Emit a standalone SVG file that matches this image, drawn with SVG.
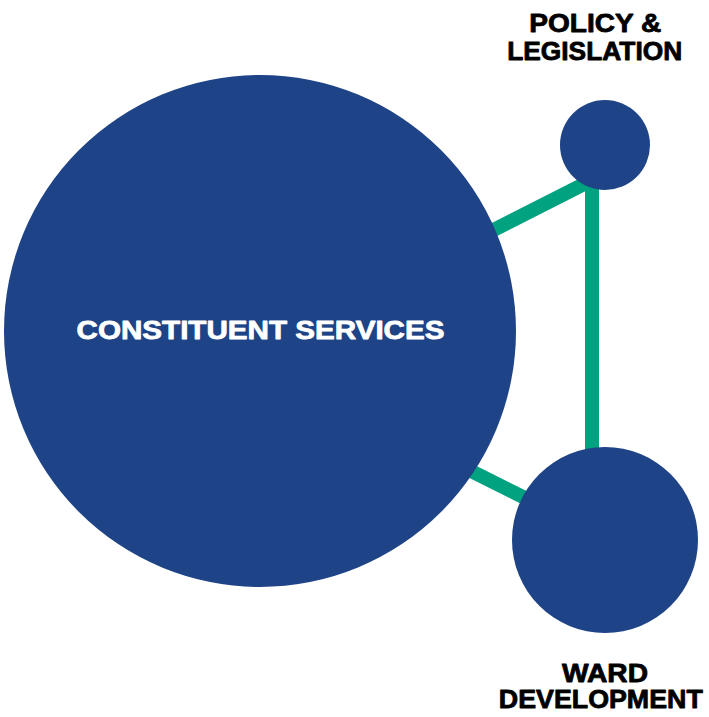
<svg xmlns="http://www.w3.org/2000/svg" width="709" height="717" viewBox="0 0 709 717">
<style>
.node{fill:#1e4487}
.link{stroke:#00a27f;stroke-width:14;fill:none}
.lbl{font-family:"Liberation Sans",Arial,sans-serif;font-weight:bold;font-size:25.5px;text-anchor:middle;stroke-width:0.8;stroke-linejoin:round}
.dark{fill:#000;stroke:#000}
.light{fill:#fff;stroke:#fff;font-size:26px}
</style>
<rect width="709" height="717" fill="#fff"/>
<g id="connectors">
<line class="link" x1="592" y1="178" x2="592" y2="460"/>
<line class="link" x1="592" y1="180" x2="460" y2="247"/>
<line class="link" x1="455" y1="463" x2="535" y2="503"/>
</g>
<g id="constituent-services">
<circle class="node" cx="260" cy="331" r="256"/>
<text class="lbl light" x="260.5" y="339" textLength="368" lengthAdjust="spacingAndGlyphs">CONSTITUENT SERVICES</text>
</g>
<g id="policy-legislation">
<circle class="node" cx="605" cy="145" r="45"/>
<text class="lbl dark" x="595.3" y="31.5" textLength="132" lengthAdjust="spacingAndGlyphs">POLICY &amp;</text>
<text class="lbl dark" x="594.7" y="60" textLength="175" lengthAdjust="spacingAndGlyphs">LEGISLATION</text>
</g>
<g id="ward-development">
<circle class="node" cx="605" cy="540" r="93"/>
<text class="lbl dark" x="605" y="681.7" textLength="86" lengthAdjust="spacingAndGlyphs">WARD</text>
<text class="lbl dark" x="600.8" y="708.3" textLength="204" lengthAdjust="spacingAndGlyphs">DEVELOPMENT</text>
</g>
</svg>
